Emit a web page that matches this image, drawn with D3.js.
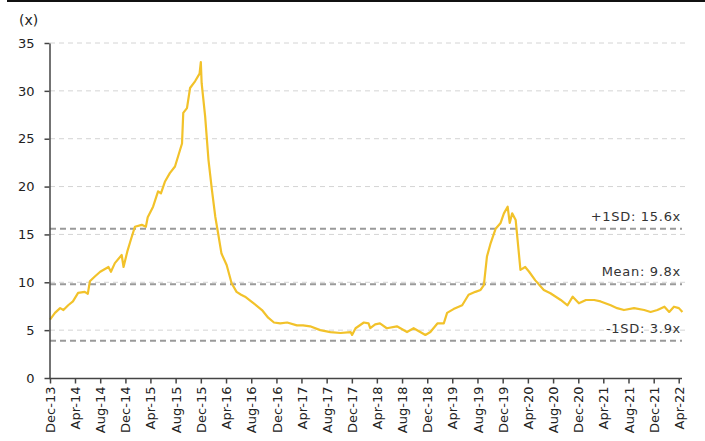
<!DOCTYPE html>
<html>
<head>
<meta charset="utf-8">
<script src="https://cdn.jsdelivr.net/npm/d3@7"></script>
<style>
  html, body { margin: 0; padding: 0; background: #fff; }
  svg { display: block; font-family: "DejaVu Sans", Verdana, sans-serif; }
</style>
</head>
<body>
<svg id="chart" width="705" height="441"></svg>
<script>
// Forward P/E multiple, Dec-2013 to Apr-2022
const dates = [
  "2013-12-01","2013-12-25","2014-01-19","2014-02-04","2014-02-27","2014-03-22","2014-04-16","2014-05-18",
  "2014-06-02","2014-06-12","2014-07-06","2014-08-01","2014-09-10","2014-09-22","2014-10-11","2014-11-13",
  "2014-11-22","2014-12-10","2014-12-28","2015-01-16","2015-02-18","2015-03-10","2015-03-19","2015-04-14",
  "2015-05-08","2015-05-22","2015-06-10","2015-07-04","2015-07-29","2015-08-22","2015-09-01","2015-09-07",
  "2015-09-25","2015-10-10","2015-11-03","2015-11-25","2015-12-01","2015-12-05","2015-12-22","2016-01-07",
  "2016-01-24","2016-02-09","2016-02-22","2016-03-10","2016-04-04","2016-04-28","2016-05-22","2016-06-13",
  "2016-07-02","2016-08-13","2016-09-22","2016-10-22","2016-11-19","2016-12-19","2017-01-22","2017-03-10",
  "2017-04-09","2017-05-13","2017-07-01","2017-08-19","2017-10-07","2017-11-25","2017-12-02","2017-12-19",
  "2018-01-28","2018-02-20","2018-02-28","2018-03-24","2018-04-16","2018-05-19","2018-07-07","2018-08-25",
  "2018-09-26","2018-10-28","2018-11-22","2018-12-16","2019-01-19","2019-02-19","2019-03-07","2019-04-07",
  "2019-05-19","2019-06-19","2019-07-22","2019-08-16","2019-09-01","2019-09-16","2019-10-04","2019-10-28",
  "2019-11-21","2019-12-07","2019-12-25","2020-01-04","2020-01-16","2020-02-02","2020-02-25","2020-03-19",
  "2020-04-07","2020-05-07","2020-06-17","2020-07-19","2020-09-07","2020-10-10","2020-11-04","2020-11-19",
  "2020-12-04","2021-01-07","2021-02-16","2021-03-19","2021-05-07","2021-06-07","2021-07-10","2021-08-28",
  "2021-10-16","2021-11-16","2021-12-19","2022-01-22","2022-02-14","2022-03-09","2022-04-02","2022-04-19"
];
const multiple = [
  6.1, 6.8, 7.3, 7.1, 7.6, 8.0, 8.9, 9.0,
  8.8, 10.1, 10.6, 11.1, 11.6, 11.1, 12.0, 12.85,
  11.6, 13.2, 14.5, 15.8, 16.0, 15.8, 16.8, 17.9,
  19.5, 19.3, 20.5, 21.4, 22.1, 23.8, 24.5, 27.7,
  28.2, 30.3, 31.0, 31.8, 33.0, 30.8, 27.3, 22.8,
  19.6, 16.85, 15.2, 13.0, 11.8, 9.9, 9.0, 8.7,
  8.5, 7.8, 7.1, 6.3, 5.8, 5.7, 5.8, 5.5,
  5.5, 5.4, 5.0, 4.8, 4.7, 4.8, 4.5, 5.2,
  5.8, 5.7, 5.2, 5.6, 5.7, 5.2, 5.4, 4.8,
  5.2, 4.8, 4.5, 4.8, 5.7, 5.7, 6.8, 7.2,
  7.6, 8.7, 9.0, 9.2, 9.7, 12.7, 14.1, 15.6,
  16.2, 17.2, 17.9, 16.2, 17.2, 16.5, 11.3, 11.6,
  11.1, 10.2, 9.2, 8.85, 8.15, 7.6, 8.5, 8.15,
  7.8, 8.15, 8.15, 8.0, 7.6, 7.3, 7.1, 7.3,
  7.1, 6.9, 7.1, 7.45, 6.9, 7.45, 7.3, 6.9
];

// Mean and one standard deviation bands
const refLabels = ["+1SD: 15.6x", "Mean: 9.8x", "-1SD: 3.9x"];
const refValues = [15.6, 9.8, 3.9];

const yTicks = [0, 5, 10, 15, 20, 25, 30, 35];
const xTickLabels = [
  "Dec-13","Apr-14","Aug-14","Dec-14","Apr-15","Aug-15","Dec-15","Apr-16","Aug-16",
  "Dec-16","Apr-17","Aug-17","Dec-17","Apr-18","Aug-18","Dec-18","Apr-19","Aug-19",
  "Dec-19","Apr-20","Aug-20","Dec-20","Apr-21","Aug-21","Dec-21","Apr-22"
];

const parse = d3.timeParse("%Y-%m-%d");
const parseTick = d3.timeParse("%b-%y");
const series = dates.map((d, i) => ({ date: parse(d), value: multiple[i] }));
const xTickDates = xTickLabels.map(parseTick);

const svg = d3.select("#chart");
const plot = { left: 50, right: 678.7, top: 43, bottom: 378, gridRight: 685 };

const x = d3.scaleTime()
  .domain([xTickDates[0], xTickDates[xTickDates.length - 1]])
  .range([plot.left, plot.right]);
const y = d3.scaleLinear().domain([0, 35]).range([plot.bottom, plot.top]);

// top rule
svg.append("rect").attr("x", 7).attr("y", 0).attr("width", 698).attr("height", 2).attr("fill", "#111");

// horizontal gridlines
svg.append("g").selectAll("line")
  .data(yTicks.filter(v => v > 0))
  .join("line")
  .attr("x1", plot.left).attr("x2", plot.gridRight)
  .attr("y1", d => y(d)).attr("y2", d => y(d))
  .attr("stroke", "#d4d4d4").attr("stroke-width", 1)
  .attr("stroke-dasharray", "5,4");

// reference lines
svg.append("g").selectAll("line")
  .data(refValues)
  .join("line")
  .attr("x1", plot.left).attr("x2", 682)
  .attr("y1", d => y(d)).attr("y2", d => y(d))
  .attr("stroke", "#9a9a9a").attr("stroke-width", 2)
  .attr("stroke-dasharray", "6,4");

svg.append("g").selectAll("text")
  .data(refValues)
  .join("text")
  .attr("x", 681)
  .attr("y", d => y(d) - 8)
  .attr("text-anchor", "end")
  .attr("font-size", 13)
  .attr("letter-spacing", 0.7)
  .attr("fill", "#333")
  .text((d, i) => refLabels[i]);

// series line
svg.append("path")
  .datum(series)
  .attr("fill", "none")
  .attr("stroke", "#F2C22A")
  .attr("stroke-width", 2.2)
  .attr("stroke-linejoin", "round")
  .attr("d", d3.line().x(d => x(d.date)).y(d => y(d.value)));

// y axis
const yAxis = svg.append("g")
  .attr("transform", `translate(${plot.left - 0.5},0)`)
  .call(d3.axisLeft(y).tickValues(yTicks).tickSize(5).tickPadding(10).tickSizeOuter(0));
yAxis.select(".domain").attr("stroke", "#444").attr("stroke-width", 1.5);
yAxis.selectAll(".tick line").attr("stroke", "#444").attr("stroke-width", 1.5);
yAxis.selectAll("text").attr("font-size", 13).attr("fill", "#222")
  .attr("font-family", "DejaVu Sans, Verdana, sans-serif");

// x axis
const xAxis = svg.append("g")
  .attr("transform", `translate(0,${plot.bottom + 0.5})`)
  .call(d3.axisBottom(x).tickValues(xTickDates).tickFormat((d, i) => xTickLabels[i])
    .tickSize(5).tickSizeOuter(0));
xAxis.select(".domain").attr("stroke", "#444").attr("stroke-width", 1.5)
  .attr("d", `M${plot.left - 1},0H${plot.gridRight - 3}`);
xAxis.selectAll(".tick line").attr("stroke", "#444").attr("stroke-width", 1.5);
xAxis.selectAll("text")
  .attr("font-size", 13).attr("fill", "#222")
  .attr("font-family", "DejaVu Sans, Verdana, sans-serif")
  .attr("text-anchor", "end")
  .attr("transform", "rotate(-90)")
  .attr("x", -8).attr("y", 0).attr("dy", "0.35em");

// unit label
svg.append("text")
  .attr("x", 19).attr("y", 25)
  .attr("font-size", 14).attr("fill", "#222")
  .text("(x)");
</script>
</body>
</html>
